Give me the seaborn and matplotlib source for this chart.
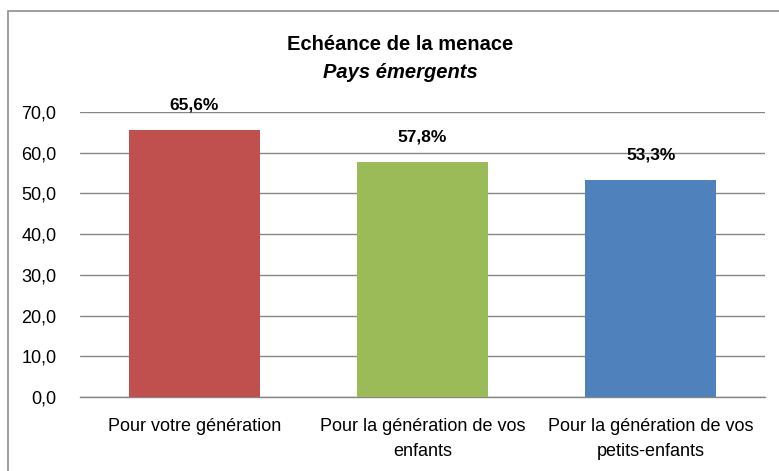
import matplotlib
matplotlib.use("Agg")
import matplotlib.pyplot as plt
import matplotlib.ticker as mticker
from matplotlib.patches import Rectangle
import seaborn as sns
import pandas as pd

categories = [
    "Pour votre génération",
    "Pour la génération de vos\nenfants",
    "Pour la génération de vos\npetits-enfants",
]
values = [65.6, 57.8, 53.3]
colors = ["#C0504D", "#9BBB59", "#4F81BD"]
yticks = [0, 10, 20, 30, 40, 50, 60, 70]

sns.set_style("white")
plt.rcParams["font.family"] = ["Liberation Sans", "DejaVu Sans"]
plt.rcParams["text.color"] = "black"

df = pd.DataFrame({"cat": categories, "val": values})

fig = plt.figure(figsize=(7.79, 4.71), dpi=100)
ax = fig.add_axes([80 / 779, 1 - 397 / 471, (765 - 80) / 779, (397 - 112) / 471])

sns.barplot(data=df, x="cat", y="val", hue="cat", palette=colors,
            width=0.574, saturation=1, legend=False, ax=ax, zorder=3,
            linewidth=0, edgecolor="none")

ax.set_xlim(-0.5, 2.5)
ax.set_ylim(0, 70)
ax.set_yticks(yticks)
ax.yaxis.set_major_formatter(mticker.FuncFormatter(lambda v, p: f"{v:.1f}".replace(".", ",")))
ax.set_xlabel("")
ax.set_ylabel("")
ax.grid(axis="y", color="#868686", linewidth=1.0, zorder=0)
ax.grid(axis="x", visible=False)
for s in ["top", "right", "left"]:
    ax.spines[s].set_visible(False)
ax.spines["bottom"].set_color("#868686")
ax.spines["bottom"].set_linewidth(1.0)
ax.tick_params(axis="y", length=0, pad=17, labelsize=13, labelcolor="black")
ax.tick_params(axis="x", length=0, pad=15, labelsize=13, labelcolor="black")
for lbl in ax.get_xticklabels():
    lbl.set_linespacing(1.6)

for i, v in enumerate(values):
    ax.annotate(f"{v:.1f}%".replace(".", ","), xy=(i, v), xytext=(0, 18),
                textcoords="offset points", ha="center", va="center",
                fontsize=12.5, fontweight="bold", color="black")

fig.text(400 / 779, 1 - 44 / 471, "Echéance de la menace", ha="center", va="center",
         fontsize=14.5, fontweight="bold", color="black")
fig.text(400 / 779, 1 - 73 / 471, "Pays émergents", ha="center", va="center",
         fontsize=14.5, fontweight="bold", style="italic", color="black")

# chart frame
fig.patches.append(Rectangle((8 / 779, -0.05), 1.0, 1 - 11 / 471 + 0.05,
                             transform=fig.transFigure, fill=False,
                             edgecolor="#8C8C8C", linewidth=1.2))

fig.savefig("out.png", dpi=100)
